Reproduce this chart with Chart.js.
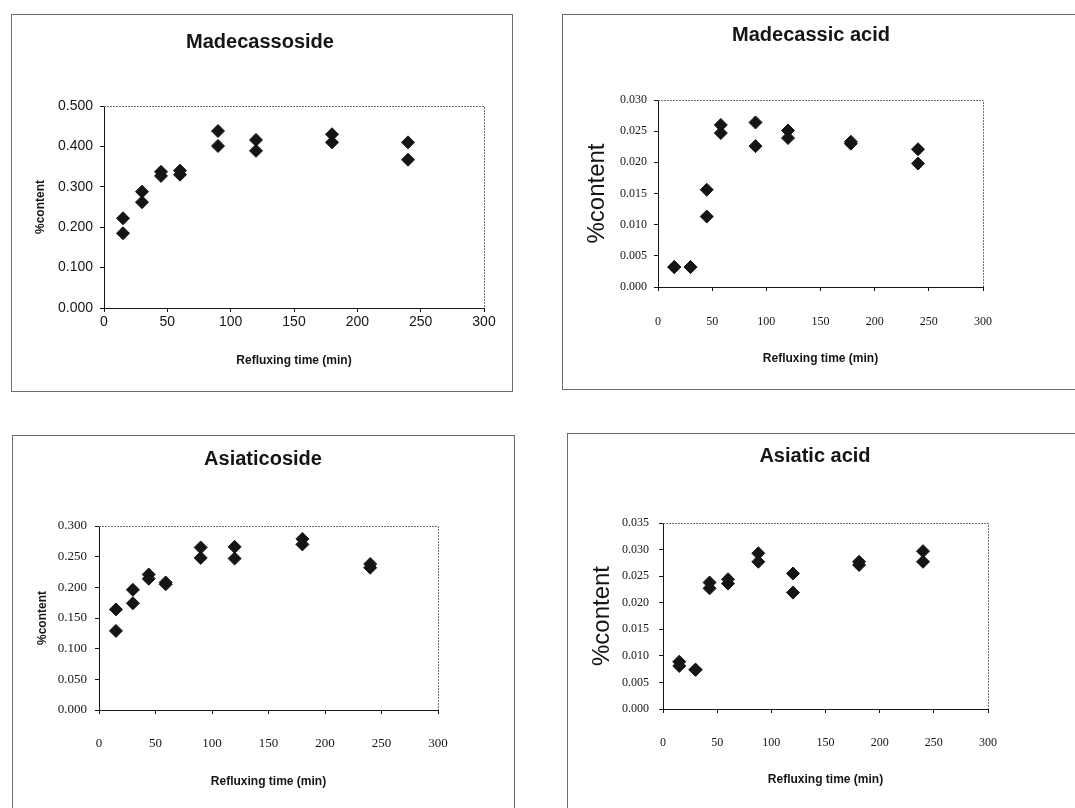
<!DOCTYPE html>
<html>
<head>
<meta charset="utf-8">
<title>%content vs refluxing time</title>
<script src="https://cdn.jsdelivr.net/npm/chart.js@4.4.1/dist/chart.umd.min.js"></script>
<style>
  body { margin: 0; background: #fff; }
  #page { position: relative; width: 1075px; height: 808px; overflow: hidden; background: #fff; }
  .frame { position: absolute; border: 1px solid #6e6e6e; }
  canvas { position: absolute; }
</style>
</head>
<body>
<div id="page">
  <div class="frame" style="left:11px;top:14px;width:500px;height:376px"></div>
  <div class="frame" style="left:562px;top:14px;width:530px;height:374px"></div>
  <div class="frame" style="left:12px;top:435px;width:501px;height:400px"></div>
  <div class="frame" style="left:567px;top:433px;width:530px;height:400px"></div>

  <canvas id="madecassoside" width="498" height="378" style="left:11px;top:14px"></canvas>
  <canvas id="madecassicAcid" width="498" height="376" style="left:562px;top:14px"></canvas>
  <canvas id="asiaticoside" width="502" height="373" style="left:12px;top:435px"></canvas>
  <canvas id="asiaticAcid" width="496" height="375" style="left:567px;top:433px"></canvas>
</div>
<script>
'use strict';

// refluxing time (min) for each panel, two replicate runs per time
const timesMadecassoside = [15, 30, 45, 60, 90, 120, 180, 240];
const madecassosideRun1 = [0.222, 0.288, 0.337, 0.340, 0.438, 0.416, 0.430, 0.410];
const madecassosideRun2 = [0.185, 0.262, 0.327, 0.330, 0.401, 0.389, 0.410, 0.367];

const timesMadecassic = [15, 30, 45, 58, 90, 120, 178, 240];
const madecassicRun1 = [0.0032, 0.0032, 0.0156, 0.0260, 0.0264, 0.0251, 0.0233, 0.0221];
const madecassicRun2 = [0.0032, 0.0032, 0.0113, 0.0247, 0.0226, 0.0239, 0.0230, 0.0198];

const timesAsiaticoside = [15, 30, 44, 59, 90, 120, 180, 240];
const asiaticosideRun1 = [0.164, 0.196, 0.221, 0.208, 0.265, 0.266, 0.279, 0.238];
const asiaticosideRun2 = [0.129, 0.174, 0.214, 0.205, 0.248, 0.247, 0.270, 0.232];

const timesAsiatic = [15, 30, 43, 60, 88, 120, 181, 240];
const asiaticRun1 = [0.0089, 0.0074, 0.0238, 0.0244, 0.0293, 0.0255, 0.0277, 0.0297];
const asiaticRun2 = [0.0081, 0.0074, 0.0227, 0.0236, 0.0277, 0.0219, 0.0271, 0.0277];

// tick values
const xTicks = [0, 50, 100, 150, 200, 250, 300];
const yTicksMadecassoside = [0, 0.1, 0.2, 0.3, 0.4, 0.5];
const yTicksMadecassic = [0, 0.005, 0.01, 0.015, 0.02, 0.025, 0.03];
const yTicksAsiaticoside = [0, 0.05, 0.1, 0.15, 0.2, 0.25, 0.3];
const yTicksAsiatic = [0, 0.005, 0.01, 0.015, 0.02, 0.025, 0.03, 0.035];

const SANS = "'Liberation Sans', Arial, sans-serif";
const SERIF = "'Liberation Serif', 'Times New Roman', serif";
const INK = '#151515';

// dotted top/right edge of the plot box
const plotFrame = {
  id: 'plotFrame',
  beforeDatasetsDraw(chart) {
    const {ctx, chartArea: a} = chart;
    ctx.save();
    ctx.strokeStyle = '#707070';
    ctx.lineWidth = 1;
    ctx.setLineDash([2, 1]);
    ctx.beginPath();
    ctx.moveTo(a.left, Math.round(a.top) + 0.5);
    ctx.lineTo(Math.round(a.right) + 0.5, Math.round(a.top) + 0.5);
    ctx.lineTo(Math.round(a.right) + 0.5, a.bottom);
    ctx.stroke();
    ctx.restore();
  }
};

function points(xs, ys) {
  return xs.map((x, i) => ({x: x, y: ys[i]}));
}

function makeChart(id, p) {
  const diamond = {
    pointStyle: 'rectRot',
    pointRadius: 6.5,
    pointHoverRadius: 6.5,
    pointBackgroundColor: INK,
    pointBorderColor: INK,
    pointBorderWidth: 1
  };
  return new Chart(document.getElementById(id), {
    type: 'scatter',
    data: {
      datasets: [
        Object.assign({label: 'Run 1', data: points(p.times, p.run1)}, diamond),
        Object.assign({label: 'Run 2', data: points(p.times, p.run2)}, diamond)
      ]
    },
    options: {
      responsive: false,
      animation: false,
      devicePixelRatio: 1,
      layout: {padding: 0},
      plugins: {
        legend: {display: false},
        tooltip: {enabled: false},
        title: {
          display: true,
          text: p.title,
          color: INK,
          font: {family: SANS, size: 20, weight: 'bold', lineHeight: 1.2},
          padding: {top: p.titleTop, bottom: p.titleBottom}
        }
      },
      scales: {
        x: {
          type: 'linear',
          min: 0,
          max: 300,
          afterBuildTicks: s => { s.ticks = xTicks.map(v => ({value: v})); },
          afterFit: s => { s.height = p.xHeight; },
          grid: {drawOnChartArea: false, drawTicks: true, tickLength: 4, color: INK},
          border: {display: true, color: INK, width: 1},
          ticks: {
            color: INK,
            padding: p.xPad,
            maxRotation: 0,
            font: {family: p.tickFamily, size: p.tickSize},
            callback: v => String(v)
          },
          title: {
            display: true,
            text: 'Refluxing time (min)',
            color: INK,
            font: {family: SANS, size: 12, weight: 'bold'},
            padding: {top: 0, bottom: p.xTitleBottom}
          }
        },
        y: {
          type: 'linear',
          min: 0,
          max: p.yTicks[p.yTicks.length - 1],
          afterBuildTicks: s => { s.ticks = p.yTicks.map(v => ({value: v})); },
          afterFit: s => { s.width = p.yWidth; },
          grid: {drawOnChartArea: false, drawTicks: true, tickLength: 4, color: INK},
          border: {display: true, color: INK, width: 1},
          ticks: {
            color: INK,
            padding: p.yPad,
            font: {family: p.tickFamily, size: p.tickSize},
            callback: v => v.toFixed(3)
          },
          title: {
            display: true,
            text: '%content',
            color: INK,
            font: {family: SANS, size: p.yTitleSize, weight: p.yTitleWeight},
            padding: {top: p.yTitleTop, bottom: 0}
          }
        },
        // empty right-hand axis, only reserves room so the title sits where it does in the figure
        spacer: {
          type: 'linear',
          position: 'right',
          display: true,
          afterFit: s => { s.width = p.rightGap; },
          grid: {display: false, drawTicks: false},
          border: {display: false},
          ticks: {display: false}
        }
      }
    },
    plugins: [plotFrame]
  });
}

makeChart('madecassoside', {
  title: 'Madecassoside',
  times: timesMadecassoside, run1: madecassosideRun1, run2: madecassosideRun2,
  yTicks: yTicksMadecassoside,
  titleTop: 16, titleBottom: 52,
  yWidth: 93, xHeight: 84, rightGap: 25,
  tickFamily: SANS, tickSize: 14, xPad: 2, yPad: 7,
  xTitleBottom: 24,
  yTitleSize: 12, yTitleWeight: 'bold', yTitleTop: 22
});

makeChart('madecassicAcid', {
  title: 'Madecassic acid',
  times: timesMadecassic, run1: madecassicRun1, run2: madecassicRun2,
  yTicks: yTicksMadecassic,
  titleTop: 9, titleBottom: 53,
  yWidth: 96, xHeight: 103, rightGap: 77,
  tickFamily: SERIF, tickSize: 12, xPad: 24, yPad: 7,
  xTitleBottom: 24,
  yTitleSize: 24, yTitleWeight: 'normal', yTitleTop: 21
});

makeChart('asiaticoside', {
  title: 'Asiaticoside',
  times: timesAsiaticoside, run1: asiaticosideRun1, run2: asiaticosideRun2,
  yTicks: yTicksAsiaticoside,
  titleTop: 12, titleBottom: 55,
  yWidth: 87, xHeight: 98, rightGap: 76,
  tickFamily: SERIF, tickSize: 13, xPad: 22, yPad: 8,
  xTitleBottom: 19,
  yTitleSize: 12, yTitleWeight: 'bold', yTitleTop: 23
});

makeChart('asiaticAcid', {
  title: 'Asiatic acid',
  times: timesAsiatic, run1: asiaticRun1, run2: asiaticRun2,
  yTicks: yTicksAsiatic,
  titleTop: 11, titleBottom: 55,
  yWidth: 96, xHeight: 99, rightGap: 75,
  tickFamily: SERIF, tickSize: 12, xPad: 23, yPad: 10,
  xTitleBottom: 21,
  yTitleSize: 24, yTitleWeight: 'normal', yTitleTop: 21
});
</script>
</body>
</html>
